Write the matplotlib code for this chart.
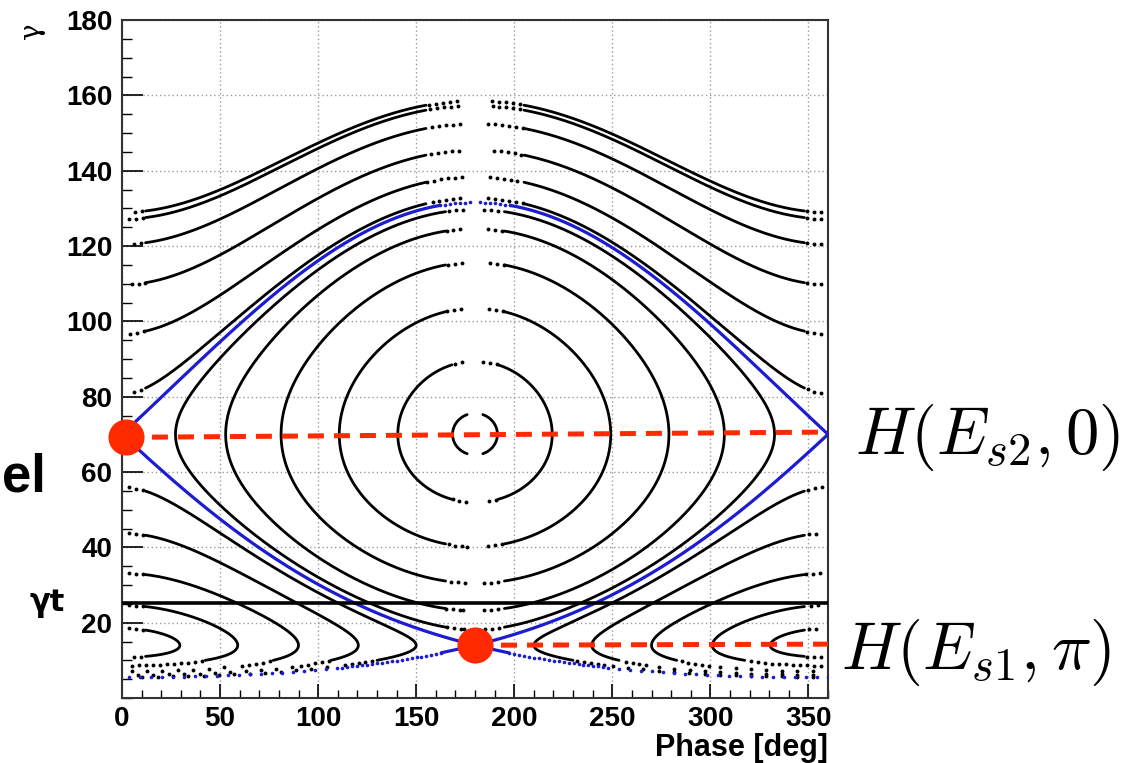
import numpy as np
import matplotlib
matplotlib.use('Agg')
import matplotlib.pyplot as plt
from matplotlib.ticker import MultipleLocator, FixedLocator
import contourpy

plt.rcParams['font.family'] = ['Liberation Sans', 'DejaVu Sans']
plt.rcParams['mathtext.fontset'] = 'cm'

# synchronous gammas, transition gamma and exponent of the slip factor
gamma_s1 = 14.0
gamma_s2 = 70.0
gamma_t = 25.3
slip_power = 1.65

# gamma where each orbit crosses phase 180 deg (upper crossing)
rotating_top = [158.6, 157.3, 152.5, 145.5, 138.4, 132.8]
bucket_top = [75.6, 89.4, 103.5, 115.7, 124.6, 129.7]
# turning phase of the orbits circling (0, gamma_s1)
lower_turn_phase = [29.5, 59.0, 90.0, 120.5, 150.0]

# marked fixed points and where the dashed guides meet the right edge
fixed_phase = [2.0, 180.0]
fixed_gamma = [69.2, 14.0]
guide_end_gamma = [70.6, 14.3]
fixed_labels = [r'$H(E_{s2},0)$', r'$H(E_{s1},\pi)$']

RED = '#ff2a00'
BLUE = '#1c1cd0'


def G(g):
    # integral of the slip term -(g-a)(g-b) g^-p
    a, b, p = gamma_s1, gamma_s2, slip_power
    return -(g**(3 - p) / (3 - p) - (a + b) * g**(2 - p) / (2 - p)
             + a * b * g**(1 - p) / (1 - p))


V = 0.5 * (G(gamma_s2) - G(gamma_s1))

phi = np.linspace(0, 360, 1441)
gam = np.linspace(1, 180, 1791)
PH, GA = np.meshgrid(phi, gam)
H = G(GA) - V * np.cos(np.radians(PH))


def lines_for(levels, gmin, gmax):
    rows = (gam >= gmin) & (gam <= gmax)
    gen = contourpy.contour_generator(phi, gam[rows], H[rows], line_type='Separate')
    out = []
    for lev in levels:
        out.extend(gen.lines(lev))
    return out


sx, sy = 706 / 360, 678 / 180


def draw(ax, pts, kind, color, lw=2.0, ms=2.8, step=7.0, z=3):
    # kind: 0 nothing, 1 dots, 2 solid, 3 sparse dots
    ph, ga = pts[:, 0], pts[:, 1]
    k = kind(ph, ga)
    ax.plot(np.where(k == 2, ph, np.nan), ga, color=color, lw=lw, zorder=z,
            solid_capstyle='round')
    d = np.hypot(np.diff(ph) * sx, np.diff(ga) * sy)
    s = np.concatenate([[0], np.cumsum(d)])
    for code, st in ((1, step), (3, 2.2 * step)):
        t = np.arange(0, s[-1], st)
        tp, tg = np.interp(t, s, ph), np.interp(t, s, ga)
        kt = kind(tp, tg)
        ax.plot(tp[kt == code], tg[kt == code], 'o', color=color, ms=ms, mew=0,
                zorder=z)


def edge_kind(ph):
    e = np.minimum(ph, 360 - ph)
    return np.where(e < 3, 0, np.where(e < 12, 1, 2))


def mid_kind(ph, gap, half):
    c = np.abs(ph - 180)
    return np.where(c < gap, 0, np.where(c < half, 1, 2))


fig = plt.figure(figsize=(11.4, 7.63), dpi=100)
ax = fig.add_axes([122 / 1140, 65 / 763, 706 / 1140, 678 / 763])
ax.set_xlim(0, 360)
ax.set_ylim(0, 180)

# orbits above the bucket
for ln in lines_for(G(np.array(rotating_top)) + V, 72, 180):
    draw(ax, ln, lambda p, g: np.minimum(edge_kind(p), mid_kind(p, 6, 25)), 'k')

# orbits inside the bucket
for top in bucket_top:
    half = max(4, min(15, 0.6 * (top - gamma_s2)))
    for ln in lines_for([G(top) + V], 14, 135):
        draw(ax, ln, lambda p, g, h=half: mid_kind(p, 4, h), 'k')


def lower_kind(p, g):
    k = np.where(g < 8.5, 3, np.where(g < 10, 1, 2))
    e = edge_kind(p)
    return np.where(e == 0, 0, np.where((e == 1) & (k == 2), 1, k))


# orbits round the lower stable point
lower_levels = G(gamma_s1) - V * np.cos(np.radians(lower_turn_phase))
for ln in lines_for(lower_levels, 1, 70):
    draw(ax, ln, lower_kind, 'k')


def sep_kind(p, g):
    c = np.abs(p - 180)
    k = np.where(g < 8, 3, np.where(g < 12, 1, 2))
    k = np.where((g > 100) & (c < 18), 1, k)
    return np.where((g > 100) & (c < 2), 0, k)


# separatrix
for ln in lines_for([G(gamma_s2) - V], 1, 180):
    draw(ax, ln, sep_kind, BLUE, lw=2.3, ms=2.6, step=5.0, z=4)

ax.axhline(gamma_t, color='k', lw=2.6, zorder=5)

for p0, g0, g1 in zip(fixed_phase, fixed_gamma, guide_end_gamma):
    ax.plot([p0, 360], [g0, g1], color=RED, lw=3.6, dashes=(3.2, 2.0),
            zorder=8, clip_on=False)
ax.plot(fixed_phase, fixed_gamma, 'o', ms=26, color=RED, mew=0, zorder=9,
        clip_on=False)

# axes, ticks and grid
ax.xaxis.set_major_locator(MultipleLocator(50))
ax.xaxis.set_minor_locator(MultipleLocator(10))
ax.yaxis.set_major_locator(FixedLocator(np.arange(20, 181, 20)))
ax.yaxis.set_minor_locator(MultipleLocator(5))
ax.grid(True, which='major', color='#9a9a9a', ls=(0, (1, 2)), lw=1.0)
ax.set_axisbelow(True)
ax.tick_params(which='both', direction='in', top=False, right=False)
ax.tick_params(axis='y', which='major', length=15, width=1.2, pad=7, labelsize=20)
ax.tick_params(axis='y', which='minor', length=7.5, width=1.0)
ax.tick_params(axis='x', which='major', length=10, width=1.2, pad=6, labelsize=20)
ax.tick_params(axis='x', which='minor', length=6, width=1.0)
for lab in ax.get_xticklabels() + ax.get_yticklabels():
    lab.set_fontweight('bold')
for sp in ax.spines.values():
    sp.set_linewidth(1.5)
    sp.set_color('#333333')

fig.text(828 / 1140, 1 - 756 / 763, 'Phase [deg]', ha='right', va='baseline',
         fontsize=22, fontweight='bold')
fig.text(32 / 1140, 1 - 31 / 763, 'γ', rotation=90, ha='center', va='center',
         fontsize=20, family='DejaVu Serif')
fig.text(47 / 1140, 1 - 604 / 763, 'γt', ha='center', va='center', fontsize=22,
         fontweight='bold', family='DejaVu Sans')
fig.text(2 / 1140, 1 - 492 / 763, 'el', ha='left', va='baseline', fontsize=38,
         fontweight='bold')
fig.text(855 / 1140, 1 - 454 / 763, fixed_labels[0], ha='left', va='baseline',
         fontsize=48)
fig.text(841 / 1140, 1 - 669 / 763, fixed_labels[1], ha='left', va='baseline',
         fontsize=48)

fig.savefig('out.png', dpi=100, facecolor='white')
